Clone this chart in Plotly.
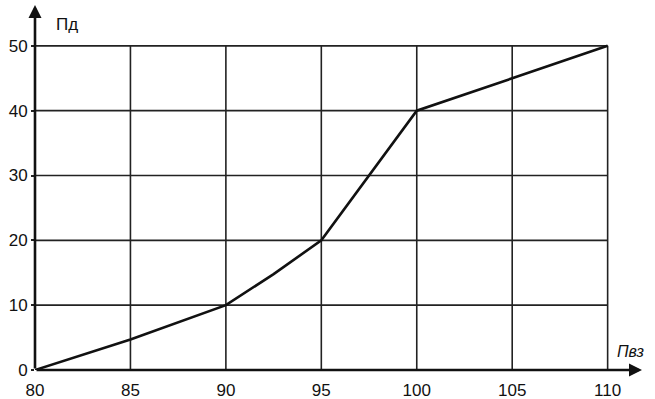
import plotly.graph_objects as go

x_vals = [80, 85, 90, 92.5, 95, 97.5, 100, 105, 110]
y_vals = [0, 4.7, 10, 14.8, 20, 30, 40, 45, 50]
x_ticks = [80, 85, 90, 95, 100, 105, 110]
y_ticks = [0, 10, 20, 30, 40, 50]
x_label = "Пвз"
y_label = "Пд"

XMAX, YMAX = 111.8, 56.3
fig = go.Figure()
fig.add_trace(go.Scatter(x=x_vals, y=y_vals, mode="lines",
                         line=dict(color="#111", width=2.6),
                         showlegend=False, cliponaxis=False))
shapes = []
for xv in x_ticks[1:]:
    shapes.append(dict(type="line", xref="x", yref="y", x0=xv, x1=xv, y0=0, y1=y_ticks[-1],
                       line=dict(color="#222", width=1.6), layer="below"))
for yv in y_ticks[1:]:
    shapes.append(dict(type="line", xref="x", yref="y", x0=x_ticks[0], x1=x_ticks[-1], y0=yv, y1=yv,
                       line=dict(color="#222", width=1.6), layer="below"))
fig.update_layout(shapes=shapes)
fig.add_annotation(x=XMAX, y=0, ax=x_ticks[0], ay=0, xref="x", yref="y", axref="x", ayref="y",
                   showarrow=True, arrowhead=2, arrowsize=1.0, arrowwidth=2.6, arrowcolor="#111", text="")
fig.add_annotation(x=x_ticks[0], y=YMAX, ax=x_ticks[0], ay=0, xref="x", yref="y", axref="x", ayref="y",
                   showarrow=True, arrowhead=2, arrowsize=1.0, arrowwidth=2.6, arrowcolor="#111", text="")
fig.add_annotation(x=81, y=YMAX - 3.0, xref="x", yref="y", text=y_label, showarrow=False,
                   xanchor="left", font=dict(size=17, color="#111", family="Liberation Sans"))
fig.add_annotation(x=110.4, y=2.8, xref="x", yref="y", text="<i>" + x_label + "</i>", showarrow=False,
                   xanchor="left", font=dict(size=16, color="#111", family="Liberation Sans"))
fig.update_xaxes(range=[80, XMAX], tickvals=x_ticks, showgrid=False, zeroline=False, showline=False,
                 ticks="outside", ticklen=5, tickcolor="rgba(0,0,0,0)", automargin=False,
                 tickfont=dict(size=17, color="#111", family="Liberation Sans"))
fig.update_yaxes(range=[0, YMAX], tickvals=y_ticks, showgrid=False, zeroline=False, showline=False,
                 ticks="outside", ticklen=3, tickwidth=1.6, tickcolor="#222", automargin=False,
                 tickfont=dict(size=17, color="#111", family="Liberation Sans"))
fig.update_layout(width=655, height=399, margin=dict(l=35, r=13, t=5, b=29),
                  plot_bgcolor="white", paper_bgcolor="white")
fig.write_html("out.html")
